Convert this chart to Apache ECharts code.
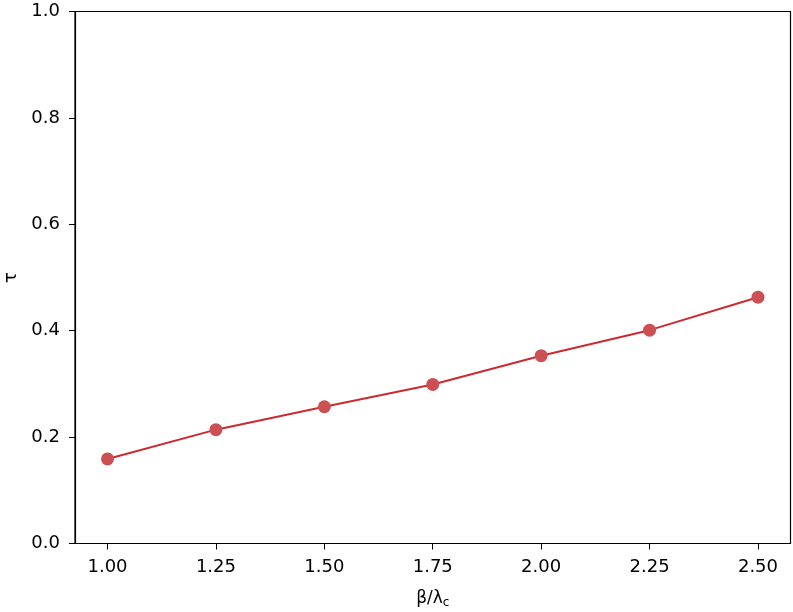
<!DOCTYPE html>
<html>
<head>
<meta charset="utf-8">
<script src="https://cdn.jsdelivr.net/npm/echarts@6/dist/echarts.min.js"></script>
<style>
  html, body { margin: 0; padding: 0; background: #fff; }
  #chart { width: 793px; height: 612px; }
</style>
</head>
<body>
<div id="chart"></div>
<script>
const betaRatio = [1.0, 1.25, 1.5, 1.75, 2.0, 2.25, 2.5];
const tau = [0.159, 0.214, 0.257, 0.299, 0.353, 0.401, 0.463];
const xTicks = [1.0, 1.25, 1.5, 1.75, 2.0, 2.25, 2.5];

const chart = echarts.init(document.getElementById("chart"));
const font = "DejaVu Sans";

chart.setOption({
  animation: false,
  grid: {
    left: 75, right: 2.5, top: 11.5, bottom: 68.5,
    containLabel: false, outerBoundsMode: "none",
    show: true, borderColor: "#000", borderWidth: 1.2, backgroundColor: "transparent"
  },
  xAxis: {
    type: "value",
    min: 0.925,
    max: 2.575,
    name: "β/λ{sub|c}",
    nameLocation: "middle",
    nameGap: 45,
    nameTextStyle: {
      fontFamily: font, fontSize: 17, color: "#000",
      rich: { sub: { fontFamily: font, fontSize: 12, color: "#000", verticalAlign: "bottom", padding: [8, 0, 0, 0] } }
    },
    axisLine: { lineStyle: { color: "#000", width: 1.2 } },
    axisTick: { show: true, inside: false, length: 6, customValues: xTicks, lineStyle: { color: "#000" } },
    axisLabel: {
      customValues: xTicks,
      formatter: v => v.toFixed(2),
      fontFamily: font, fontSize: 18, color: "#000", margin: 15
    },
    splitLine: { show: false }
  },
  yAxis: {
    type: "value",
    min: 0,
    max: 1,
    interval: 0.2,
    name: "τ",
    nameLocation: "middle",
    nameRotate: 90,
    nameGap: 55,
    nameTextStyle: { fontFamily: font, fontSize: 18, color: "#000" },
    axisLine: { show: true, lineStyle: { color: "#000", width: 1.2 } },
    axisTick: { show: true, inside: false, length: 6, lineStyle: { color: "#000" } },
    axisLabel: {
      formatter: v => v.toFixed(1),
      fontFamily: font, fontSize: 18, color: "#000", margin: 15
    },
    splitLine: { show: false }
  },
  series: [{
    type: "line",
    data: betaRatio.map((b, i) => [b, tau[i]]),
    symbol: "circle",
    symbolSize: 13,
    lineStyle: { color: "#cc2a2f", width: 2 },
    itemStyle: { color: "#cc5053" }
  }]
});
</script>
</body>
</html>
